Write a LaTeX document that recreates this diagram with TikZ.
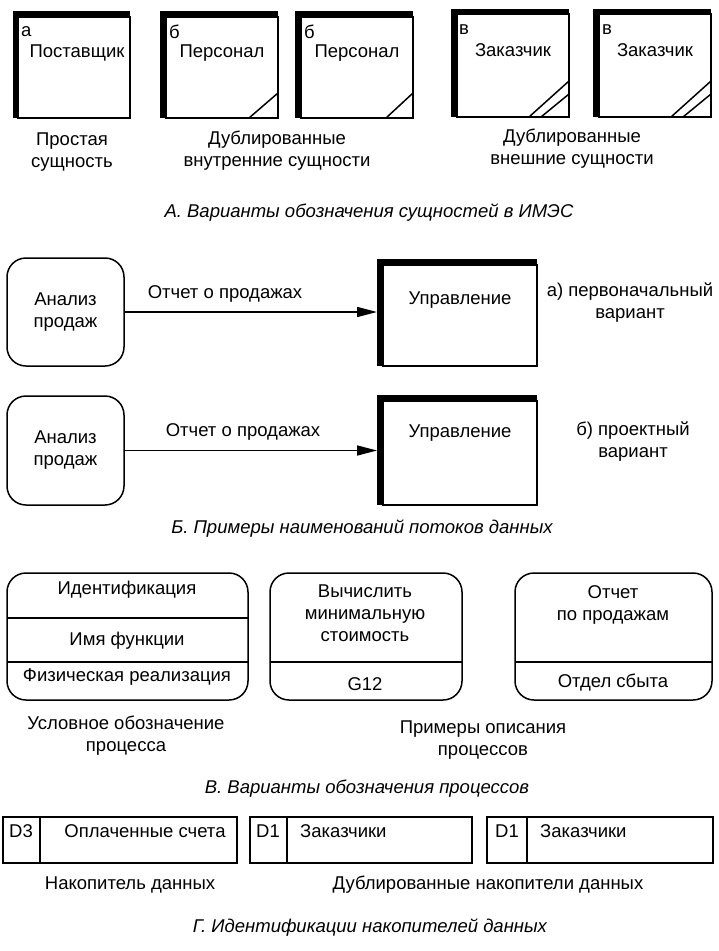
\documentclass[tikz,border=0pt]{standalone}
\usepackage{fontspec}
\setmainfont{Liberation Sans}
\usetikzlibrary{fit,arrows.meta}
\tikzset{
  txt/.style={inner sep=0pt, font=\fontsize{18.5}{22}\selectfont, align=center},
  captxt/.style={inner sep=0pt, font=\fontsize{18.5}{22}\selectfont\itshape, align=center},
  shadowbox/.style={inner sep=0pt, outer sep=0pt, fill=black},
  entbox/.style={inner sep=0pt, outer sep=0pt, fill=white, draw=black, line width=1.5pt},
  procbox/.style={inner sep=0pt, outer sep=0pt, draw=black, line width=1.5pt, rounded corners=19pt},
  storebox/.style={inner sep=0pt, outer sep=0pt, draw=black, line width=2pt},
  thinline/.style={line width=1.5pt},
  arr/.style={line width=1.6pt, -{Triangle[length=20pt,width=10pt]}},
}
\begin{document}
\begin{tikzpicture}[x=1pt,y=-1pt]
\useasboundingbox (0,0) rectangle (719,951);

% ---- A. entities ----
\node[shadowbox, fit={(13,11) (130,118)}] (e1s) {};
\node[entbox, fit={(18,17) (130,118)}] (e1) {};
\node[txt, anchor=west] (e1i) at (21,32) {а};
\node[txt] (e1t) at (77,53) {Поставщик};

\node[shadowbox, fit={(160,11) (278,118)}] (e2s) {};
\node[entbox, fit={(166,17) (278,118)}] (e2) {};
\node[txt, anchor=west] (e2i) at (169,32) {б};
\node[txt] (e2t) at (222,53) {Персонал};
\draw[thinline] (249,118) -- (278,93);

\node[shadowbox, fit={(295,11) (413,118)}] (e3s) {};
\node[entbox, fit={(301,17) (413,118)}] (e3) {};
\node[txt, anchor=west] (e3i) at (304,32) {б};
\node[txt] (e3t) at (357,53) {Персонал};
\draw[thinline] (386,118) -- (413,93);

\node[shadowbox, fit={(451,9) (569,117)}] (e4s) {};
\node[entbox, fit={(457,14) (569,117)}] (e4) {};
\node[txt, anchor=west] (e4i) at (459,30) {в};
\node[txt] (e4t) at (513,50) {Заказчик};
\draw[thinline] (529,117) -- (569,81);
\draw[thinline] (541,117) -- (569,94);

\node[shadowbox, fit={(593,9) (711,117)}] (e5s) {};
\node[entbox, fit={(599,14) (711,117)}] (e5) {};
\node[txt, anchor=west] (e5i) at (602,30) {в};
\node[txt] (e5t) at (655,50) {Заказчик};
\draw[thinline] (671,117) -- (711,81);
\draw[thinline] (683,117) -- (711,94);

\node[txt] (c1) at (72,152) {Простая\\сущность};
\node[txt] (c2) at (277,151) {Дублированные\\внутренние сущности};
\node[txt] (c3) at (572,149) {Дублированные\\внешние сущности};
\node[captxt] (capA) at (369,213) {А. Варианты обозначения сущностей в ИМЭС};

% ---- B. flows ----
\node[procbox, fit={(7,258) (124,366)}] (a1) {};
\node[txt] (a1t) at (a1) {Анализ\\продаж};
\node[shadowbox, fit={(377,259) (537,366)}] (m1s) {};
\node[entbox, fit={(383,265) (537,366)}] (m1) {};
\node[txt] (m1t) at (460,300) {Управление};
\draw[arr] (a1.east) -- (a1.east -| m1s.west);
\node[txt] (f1) at (225,294) {Отчет о продажах};
\node[txt] (v1) at (630,303) {а) первоначальный\\вариант};

\node[procbox, fit={(7,396) (124,505)}] (a2) {};
\node[txt] (a2t) at (a2) {Анализ\\продаж};
\node[shadowbox, fit={(377,395) (537,505)}] (m2s) {};
\node[entbox, fit={(383,401) (537,505)}] (m2) {};
\node[txt] (m2t) at (460,433) {Управление};
\draw[arr] (a2.east) -- (a2.east -| m2s.west);
\node[txt] (f2) at (243,432) {Отчет о продажах};
\node[txt] (v2) at (633,442) {б) проектный\\вариант};

\node[captxt] (capB) at (362,529) {Б. Примеры наименований потоков данных};

% ---- C. processes ----
\node[procbox, fit={(7,573) (248,700)}] (p1) {};
\draw[thinline] (p1.west |- 0,618) -- (p1.east |- 0,618);
\draw[thinline] (p1.west |- 0,662) -- (p1.east |- 0,662);
\node[txt] (p1a) at (127,590) {Идентификация};
\node[txt] (p1b) at (127,641) {Имя функции};
\node[txt] (p1c) at (127,677) {Физическая реализация};

\node[procbox, fit={(270,573) (462,700)}] (p2) {};
\draw[thinline] (p2.west |- 0,662) -- (p2.east |- 0,662);
\node[txt] (p2a) at (365,613) {Вычислить\\минимальную\\стоимость};
\node[txt] (p2b) at (365,684) {G12};

\node[procbox, fit={(515,573) (712,700)}] (p3) {};
\draw[thinline] (p3.west |- 0,662) -- (p3.east |- 0,662);
\node[txt] (p3a) at (613,605) {Отчет\\по продажам};
\node[txt] (p3b) at (613,683) {Отдел сбыта};

\node[txt] (c4) at (126,736) {Условное обозначение\\процесса};
\node[txt] (c5) at (483,740) {Примеры описания\\процессов};
\node[captxt] (capC) at (367,789) {В. Варианты обозначения процессов};

% ---- D. stores ----
\node[storebox, fit={(3,817) (237,863)}] (s1) {};
\draw[line width=2pt] (40,817) -- (40,863);
\node[txt] (s1a) at (21,831) {D3};
\node[txt] (s1b) at (145,831) {Оплаченные счета};

\node[storebox, fit={(250,817) (472,863)}] (s2) {};
\draw[line width=2pt] (287,817) -- (287,863);
\node[txt] (s2a) at (268,831) {D1};
\node[txt, anchor=west] (s2b) at (300,831) {Заказчики};

\node[storebox, fit={(487,817) (713,863)}] (s3) {};
\draw[line width=2pt] (527,817) -- (527,863);
\node[txt] (s3a) at (507,831) {D1};
\node[txt, anchor=west] (s3b) at (540,831) {Заказчики};

\node[txt] (c6) at (130,885) {Накопитель данных};
\node[txt] (c7) at (488,885) {Дублированные накопители данных};
\node[captxt] (capD) at (370,928) {Г. Идентификации накопителей данных};
\end{tikzpicture}
\end{document}
